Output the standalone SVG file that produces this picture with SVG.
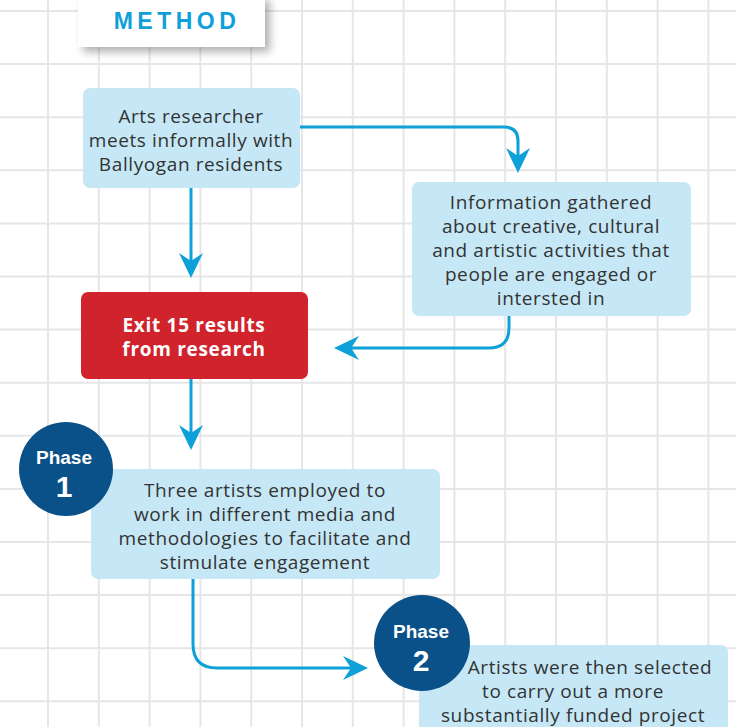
<svg xmlns="http://www.w3.org/2000/svg" width="736" height="727" viewBox="0 0 736 727">
<defs>
<style>
.grid{stroke:#e6e6e6;stroke-width:2;fill:none}
.box{fill:#c6e8f6}
.txt{font-family:"Open Sans","Liberation Sans",sans-serif;font-size:19px;letter-spacing:0.6px;fill:#333;text-anchor:middle}
.wtxt{font-family:"Liberation Sans",Arial,sans-serif;font-weight:bold;fill:#fff;text-anchor:middle}
.rtxt{font-family:"Open Sans","Liberation Sans",sans-serif;font-weight:bold;font-size:19px;letter-spacing:0.7px;fill:#fff;text-anchor:middle}
.conn{stroke:#0ea0d8;stroke-width:3;fill:none;marker-end:url(#ah)}
.phase{fill:#0b5189}
</style>
<marker id="ah" viewBox="-26 -13 27 26" refX="-10" refY="0" markerWidth="27" markerHeight="26" orient="auto" markerUnits="userSpaceOnUse">
<path d="M0,0 L-25,-12 L-17,0 L-25,12 Z" fill="#0ea0d8"/>
</marker>
<filter id="sh" x="-20%" y="-30%" width="150%" height="170%">
<feDropShadow dx="5" dy="5" stdDeviation="4" flood-color="#000" flood-opacity="0.3"/>
</filter>
</defs>
<rect width="736" height="727" fill="#fff"/>
<g id="grid">
<path class="grid" d="M48,0V727M98.8,0V727M149.6,0V727M200.4,0V727M251.2,0V727M302,0V727M352.8,0V727M403.6,0V727M454.4,0V727M505.2,0V727M556,0V727M606.8,0V727M657.6,0V727M708.4,0V727
M0,11H736M0,64.1H736M0,117.2H736M0,170.3H736M0,223.4H736M0,276.5H736M0,329.6H736M0,382.7H736M0,435.8H736M0,488.9H736M0,542H736M0,595.1H736M0,648.2H736M0,701.3H736"/>
</g>
<g id="title">
<rect x="78" y="-5" width="187" height="52" fill="#fff" filter="url(#sh)"/>
<text x="177" y="29" font-family="'Liberation Sans',Arial,sans-serif" font-weight="bold" font-size="23" letter-spacing="4.5" fill="#0ea0d8" text-anchor="middle">METHOD</text>
</g>
<g id="connectors">
<path class="conn" d="M300,127H504Q518,127 518,141V163"/>
<path class="conn" d="M191,188V268"/>
<path class="conn" d="M509,316V328Q509,348 489,348H344"/>
<path class="conn" d="M191,379V440"/>
<path class="conn" d="M193,579V644Q193,668 217,668H358"/>
</g>
<g id="n1">
<rect class="box" x="83" y="88" width="217" height="100" rx="7"/>
<text class="txt" x="191" y="123">Arts researcher</text>
<text class="txt" x="191" y="147">meets informally with</text>
<text class="txt" x="191" y="171">Ballyogan residents</text>
</g>
<g id="n2">
<rect class="box" x="412" y="182" width="279" height="134" rx="7"/>
<text class="txt" x="551" y="209">Information gathered</text>
<text class="txt" x="551" y="233">about creative, cultural</text>
<text class="txt" x="551" y="257">and artistic activities that</text>
<text class="txt" x="551" y="281">people are engaged or</text>
<text class="txt" x="551" y="305">intersted in</text>
</g>
<g id="n3">
<rect x="81" y="292" width="227" height="87" rx="7" fill="#d0232b"/>
<text class="rtxt" x="194" y="332">Exit 15 results</text>
<text class="rtxt" x="194" y="356">from research</text>
</g>
<g id="n4">
<rect class="box" x="91" y="469" width="349" height="110" rx="7"/>
<text class="txt" x="265" y="497">Three artists employed to</text>
<text class="txt" x="265" y="521">work in different media and</text>
<text class="txt" x="265" y="545">methodologies to facilitate and</text>
<text class="txt" x="265" y="569">stimulate engagement</text>
</g>
<g id="phase1">
<circle class="phase" cx="66" cy="469" r="47"/>
<text class="wtxt" x="64" y="464" font-size="19">Phase</text>
<text class="wtxt" x="64" y="497" font-size="30">1</text>
</g>
<g id="n5">
<rect class="box" x="419" y="645" width="309" height="100" rx="7"/>
<text class="txt" x="590" y="674">Artists were then selected</text>
<text class="txt" x="573" y="698">to carry out a more</text>
<text class="txt" x="573" y="722">substantially funded project</text>
</g>
<g id="phase2">
<circle class="phase" cx="422" cy="643" r="48"/>
<text class="wtxt" x="421" y="638" font-size="19">Phase</text>
<text class="wtxt" x="421" y="671" font-size="30">2</text>
</g>
</svg>
